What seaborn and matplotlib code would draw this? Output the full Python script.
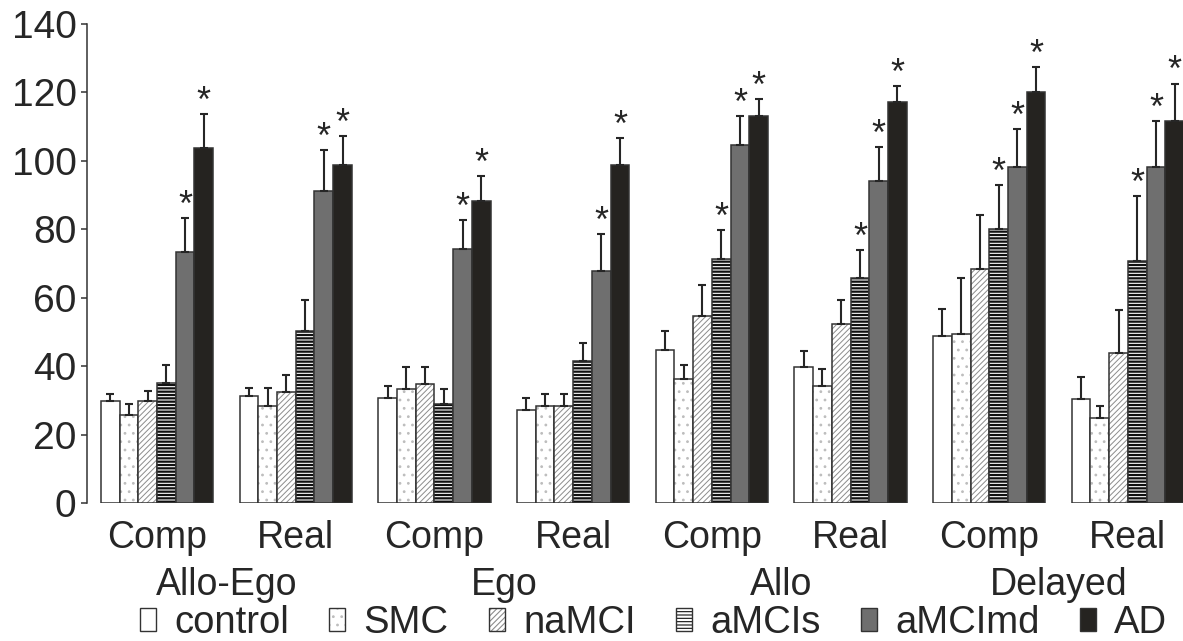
import numpy as np
import pandas as pd
import matplotlib
matplotlib.use("Agg")
import matplotlib.pyplot as plt
import matplotlib.patches as mpatches
import matplotlib.transforms as mtransforms
from matplotlib.colors import to_rgba
import seaborn as sns

# ---------------- data ----------------
tasks = ["Allo-Ego", "Ego", "Allo", "Delayed"]
modes = ["Comp", "Real"]
groups = ["control", "SMC", "naMCI", "aMCIs", "aMCImd", "AD"]

control_mean = [29.8, 31.2, 30.7, 27.2, 44.8, 39.8, 48.9, 30.3]
smc_mean     = [25.8, 28.3, 33.4, 28.3, 36.2, 34.3, 49.5, 24.8]
namci_mean   = [29.8, 32.5, 34.9, 28.3, 54.8, 52.4, 68.3, 43.8]
amcis_mean   = [35.0, 50.4, 29.0, 41.4, 71.4, 65.9, 80.2, 70.8]
amcimd_mean  = [73.4, 91.2, 74.2, 67.7, 104.7, 94.1, 98.2, 98.2]
ad_mean      = [103.7, 98.9, 88.2, 98.9, 113.2, 117.2, 120.1, 111.6]

control_err = [2.1, 2.4, 3.4, 3.4, 5.6, 4.5, 7.9, 6.5]
smc_err     = [3.0, 5.4, 6.4, 3.6, 4.0, 4.8, 16.4, 3.5]
namci_err   = [2.9, 4.9, 4.9, 3.6, 9.0, 7.0, 15.9, 12.5]
amcis_err   = [5.4, 8.9, 4.3, 5.3, 8.4, 7.9, 12.6, 18.9]
amcimd_err  = [9.8, 12.0, 8.5, 11.0, 8.4, 10.0, 11.0, 13.4]
ad_err      = [10.0, 8.3, 7.4, 7.8, 4.9, 4.7, 7.4, 11.0]

control_sig = [0, 0, 0, 0, 0, 0, 0, 0]
smc_sig     = [0, 0, 0, 0, 0, 0, 0, 0]
namci_sig   = [0, 0, 0, 0, 0, 0, 0, 0]
amcis_sig   = [0, 0, 0, 0, 1, 1, 1, 1]
amcimd_sig  = [1, 1, 1, 1, 1, 1, 1, 1]
ad_sig      = [1, 1, 1, 1, 1, 1, 1, 1]

y_ticks = [0, 20, 40, 60, 80, 100, 120, 140]

means = [control_mean, smc_mean, namci_mean, amcis_mean, amcimd_mean, ad_mean]
errs = [control_err, smc_err, namci_err, amcis_err, amcimd_err, ad_err]
sigs = [control_sig, smc_sig, namci_sig, amcis_sig, amcimd_sig, ad_sig]

cond_keys = [f"{t} {m}" for t in tasks for m in modes]
tick_labels = [m for t in tasks for m in modes]

rows = []
for g, vals in zip(groups, means):
    for c, v in zip(cond_keys, vals):
        rows.append({"cond": c, "group": g, "value": v})
df = pd.DataFrame(rows)

# ---------------- style ----------------
sns.set_theme(style="white")
plt.rcParams["font.family"] = ["Liberation Sans", "DejaVu Sans"]
plt.rcParams["hatch.linewidth"] = 0.8

ink = "#262626"
edge = "#333333"
fills = {"control": "#ffffff", "SMC": "#ffffff", "naMCI": "#ffffff",
         "aMCIs": "#ffffff", "aMCImd": "#6f6f6f", "AD": "#252320"}
hatches = {"control": None, "SMC": "..", "naMCI": "//////",
           "aMCIs": "-----", "aMCImd": None, "AD": None}
hatch_cols = {"control": edge, "SMC": "#bdbdbd", "naMCI": "#8c8c8c",
              "aMCIs": "#111111", "aMCImd": edge, "AD": edge}
hatch_lw = {"control": 0.8, "SMC": 0.8, "naMCI": 0.7,
            "aMCIs": 1.6, "aMCImd": 0.8, "AD": 0.8}


def apply_hatch(p, g):
    h = hatches[g]
    if not h:
        return
    p.set_hatch(h)
    col = to_rgba(hatch_cols[g])
    if hasattr(p, "set_hatchcolor"):
        p.set_hatchcolor(col)
    else:
        p._hatch_color = col
    if hasattr(p, "set_hatch_linewidth"):
        p.set_hatch_linewidth(hatch_lw[g])
    elif hasattr(p, "_hatch_linewidth"):
        p._hatch_linewidth = hatch_lw[g]


fig = plt.figure(figsize=(11.83, 6.41), dpi=100)
ax = fig.add_axes([87 / 1183, 138 / 641, 1 - 87 / 1183, (503 - 24) / 641])

sns.barplot(data=df, x="cond", y="value", hue="group", order=cond_keys,
            hue_order=groups, palette=fills, saturation=1, width=0.81,
            dodge=True, errorbar=None, edgecolor=edge, linewidth=1.1,
            legend=False, ax=ax)

bar_containers = list(ax.containers)

for gi, g in enumerate(groups):
    cont = bar_containers[gi]
    xs = [p.get_x() + p.get_width() / 2 for p in cont]
    hs = [p.get_height() for p in cont]
    for p in cont:
        apply_hatch(p, g)
    ax.errorbar(xs, hs, yerr=[np.zeros(len(hs)), errs[gi]], fmt="none",
                ecolor=ink, elinewidth=1.5, capsize=3.0, capthick=1.5, zorder=1)
    for x, h, e, s in zip(xs, hs, errs[gi], sigs[gi]):
        if s:
            ax.annotate("*", xy=(x, h + e), xytext=(0, 1.5),
                        textcoords="offset points", ha="center",
                        va="baseline", fontsize=26, color=ink)

ax.set_ylim(0, 140)
ax.set_yticks(y_ticks)
ax.set_xlim(-0.505, 7.397)
ax.set_xticks(range(len(cond_keys)))
ax.set_xticklabels(tick_labels)
ax.set_xlabel("")
ax.set_ylabel("")
for s in ["top", "right", "bottom"]:
    ax.spines[s].set_visible(False)
ax.spines["left"].set_color(edge)
ax.spines["left"].set_linewidth(1.1)
ax.tick_params(axis="y", left=True, direction="out", length=4.5, width=1.1,
               color=edge, labelsize=28, labelcolor=ink, pad=3)
ax.tick_params(axis="x", length=0, labelsize=27, labelcolor=ink, pad=12)

# task labels under the pairs of conditions
trans = mtransforms.blended_transform_factory(ax.transData, fig.transFigure)
ticks = ax.get_xticks()
for j, t in enumerate(tasks):
    xc = (ticks[2 * j] + ticks[2 * j + 1]) / 2
    ax.text(xc, (641 - 595) / 641, t, transform=trans, ha="center",
            va="baseline", fontsize=27, color=ink)

handles = []
for g in groups:
    hp = mpatches.Patch(facecolor=fills[g], edgecolor=edge, linewidth=1.0)
    apply_hatch(hp, g)
    handles.append(hp)
fig.legend(handles, groups, loc="lower center", bbox_to_anchor=(0.5525, 0.0),
           ncol=6, frameon=False, handlelength=0.42, handleheight=0.55,
           handletextpad=0.48, columnspacing=1.05, fontsize=27.5,
           borderpad=0, borderaxespad=0, labelcolor=ink)

fig.savefig("out.png", dpi=100)
